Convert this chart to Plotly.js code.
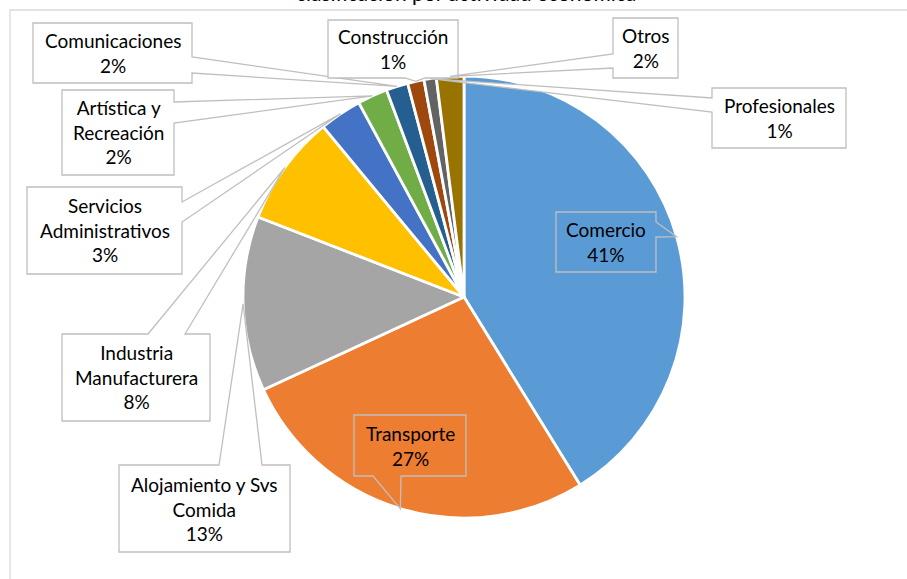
<!DOCTYPE html>
<html>
<head>
<meta charset="utf-8">
<script src="https://cdn.plot.ly/plotly-3.0.1.min.js"></script>
<style>html,body{margin:0;padding:0;background:#fff;}#chart{width:907px;height:579px;}</style>
</head>
<body>
<div id="chart"></div>
<script>
// ---- data ----
const categories = ['Comercio','Transporte','Alojamiento y Svs Comida','Industria Manufacturera','Servicios Administrativos','Artística y Recreación','Comunicaciones','Construcción','Profesionales','Otros'];
const values = [41.2, 26.9, 12.8, 8.1, 3.1, 2.2, 1.6, 1.2, 0.9, 2.0];
const labelLines = ['Comercio','Transporte','Alojamiento y Svs<br>Comida','Industria<br>Manufacturera','Servicios<br>Administrativos','Artística y<br>Recreación','Comunicaciones','Construcción','Profesionales','Otros'];
const titleText = 'clasificación por actividad económica';

// ---- styles / layout ----
const colors = ['#5B9BD5','#ED7D31','#A5A5A5','#FFC000','#4472C4','#70AD47','#255E91','#9E480E','#636363','#997300'];
const W = 907, H = 579;
const PIE = {cx: 464, cy: 297, r: 221};
// callout boxes in pixel coords: l,t,r,b, side of wedge, wedge base start/end, filled
const BOXES = [
  {l:556,t:212,r:656,b:272, side:'right', a:222, z:237, fill:false},
  {l:354,t:415,r:466,b:476, side:'bottom', a:373, z:401, fill:false},
  {l:119,t:465,r:290,b:552, side:'top', a:219, z:262, fill:true},
  {l:62,t:334,r:210,b:421, side:'top', a:148, z:185, fill:true},
  {l:27,t:187,r:182,b:274, side:'right', a:202, z:222, fill:true},
  {l:62,t:90,r:174,b:175, side:'right', a:102, z:123, fill:true},
  {l:33,t:23,r:192,b:83, side:'right', a:57, z:73, fill:true},
  {l:328,t:20,r:458,b:78, side:'bottom', a:405, z:425, fill:true},
  {l:712,t:88,r:846,b:148, side:'left', a:98, z:112, fill:true},
  {l:613,t:18,r:678,b:78, side:'left', a:54, z:68, fill:true}
];
const FONT = 'Lato, "Open Sans", sans-serif';

const fx = p => p / W;
const fy = p => 1 - p / H;

const total = values.reduce((s, v) => s + v, 0);
let cum = 0;
const tips = values.map(v => {
  const mid = (cum + v / 2) / total * 2 * Math.PI;
  cum += v;
  return [PIE.cx + PIE.r * Math.sin(mid), PIE.cy - PIE.r * Math.cos(mid)];
});

function pt(x, y) { return fx(x).toFixed(5) + ',' + fy(y).toFixed(5); }
function calloutPath(b, tip) {
  const [tx, ty] = tip;
  let p;
  if (b.side === 'right') p = [[b.l,b.t],[b.r,b.t],[b.r,b.a],[tx,ty],[b.r,b.z],[b.r,b.b],[b.l,b.b]];
  else if (b.side === 'left') p = [[b.l,b.t],[b.r,b.t],[b.r,b.b],[b.l,b.b],[b.l,b.z],[tx,ty],[b.l,b.a]];
  else if (b.side === 'top') p = [[b.l,b.t],[b.a,b.t],[tx,ty],[b.z,b.t],[b.r,b.t],[b.r,b.b],[b.l,b.b]];
  else p = [[b.l,b.t],[b.r,b.t],[b.r,b.b],[b.z,b.b],[tx,ty],[b.a,b.b],[b.l,b.b]];
  return 'M' + p.map(q => pt(q[0], q[1])).join(' L') + ' Z';
}

const shapes = [
  {type:'rect', xref:'paper', yref:'paper', x0:fx(10), y0:fy(H + 10), x1:fx(W + 10), y1:fy(10),
   line:{color:'#D9D9D9', width:1.3}, fillcolor:'rgba(0,0,0,0)', layer:'below'}
];
const annotations = [
  {text: titleText, xref:'paper', yref:'paper', x:fx(466), y:fy(7), xanchor:'center', yanchor:'bottom',
   showarrow:false, font:{family:FONT, size:21, color:'#000'}}
];
BOXES.forEach((b, i) => {
  shapes.push({type:'path', xref:'paper', yref:'paper', path: calloutPath(b, tips[i]),
    fillcolor: b.fill ? '#FFFFFF' : 'rgba(0,0,0,0)', line:{color:'#BFBFBF', width:1.3}, layer:'above'});
  const pct = Math.round(values[i] / total * 100) + '%';
  annotations.push({text: labelLines[i] + '<br>' + pct, xref:'paper', yref:'paper',
    x: fx((b.l + b.r) / 2), y: fy((b.t + b.b) / 2), xanchor:'center', yanchor:'middle',
    showarrow:false, font:{family:FONT, size:19, color:'#000'}});
});

const trace = {
  type:'pie', labels: categories, values: values, sort:false, direction:'clockwise', rotation:0,
  marker:{colors: colors, line:{color:'#FFFFFF', width:2.8}},
  textinfo:'none', textposition:'none', hoverinfo:'label+percent', showlegend:false,
  domain:{x:[fx(PIE.cx - PIE.r), fx(PIE.cx + PIE.r)], y:[fy(PIE.cy + PIE.r), fy(PIE.cy - PIE.r)]}
};

Plotly.newPlot('chart', [trace], {
  width: W, height: H, margin:{l:0, r:0, t:0, b:0}, showlegend:false,
  paper_bgcolor:'#FFFFFF', plot_bgcolor:'#FFFFFF', shapes: shapes, annotations: annotations
}, {displayModeBar:false, staticPlot:true});
</script>
</body>
</html>
